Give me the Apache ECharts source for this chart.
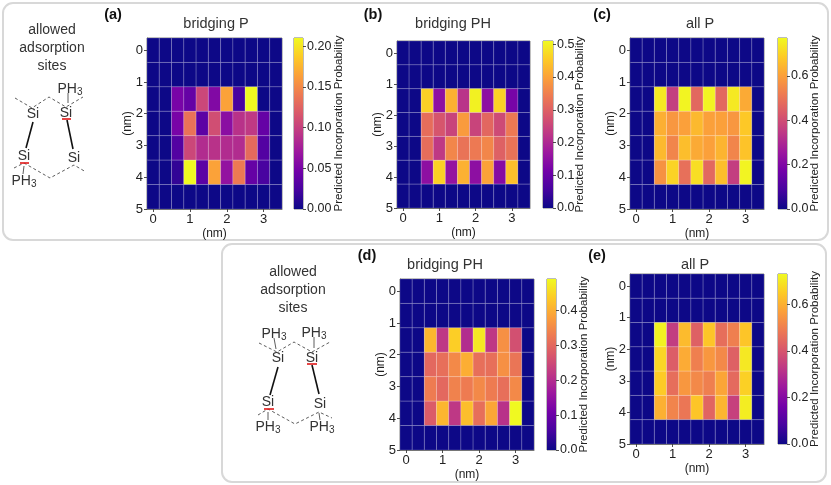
<!DOCTYPE html>
<html lang="en">
<head>
<meta charset="UTF-8">
<title>Predicted Incorporation Probability</title>
<script src="https://cdn.jsdelivr.net/npm/echarts@6/dist/echarts.min.js"></script>
<style>
  html, body { margin: 0; padding: 0; background: #fff; }
  #main { width: 831px; height: 485px; }
</style>
</head>
<body>
<div id="main"></div>
<script>
// occupied rows of each map, the other rows and columns are zero
const valuesA = [
  [0.05, 0.04, 0.105, 0.055, 0.165, 0.025, 0.21, 0],
  [0.05, 0.135, 0.035, 0.11, 0.06, 0.09, 0.095, 0.04],
  [0.03, 0.105, 0.085, 0.09, 0.085, 0.085, 0.13, 0.03],
  [0.015, 0.21, 0.035, 0.165, 0.065, 0.14, 0.04, 0.025]
];
const valuesB = [
  [0.46, 0.15, 0.42, 0.22, 0.50, 0.15, 0.46, 0.12],
  [0.32, 0.28, 0.25, 0.39, 0.25, 0.31, 0.26, 0.34],
  [0.32, 0.23, 0.36, 0.33, 0.34, 0.36, 0.30, 0.33],
  [0.15, 0.46, 0.16, 0.42, 0.15, 0.40, 0.14, 0.44]
];
const valuesC = [
  [0.74, 0.36, 0.76, 0.47, 0.76, 0.47, 0.74, 0.62],
  [0.63, 0.58, 0.60, 0.65, 0.60, 0.60, 0.58, 0.68],
  [0.65, 0.54, 0.66, 0.62, 0.60, 0.64, 0.54, 0.67],
  [0.57, 0.70, 0.49, 0.72, 0.47, 0.66, 0.36, 0.76]
];
const valuesD = [
  [0.41, 0.22, 0.44, 0.20, 0.47, 0.22, 0.36, 0.26],
  [0.30, 0.31, 0.35, 0.40, 0.31, 0.31, 0.36, 0.32],
  [0.33, 0.30, 0.34, 0.33, 0.35, 0.33, 0.31, 0.35],
  [0.28, 0.41, 0.22, 0.42, 0.31, 0.39, 0.21, 0.49]
];
const valuesE = [
  [0.72, 0.34, 0.62, 0.43, 0.64, 0.46, 0.50, 0.64],
  [0.67, 0.42, 0.59, 0.50, 0.55, 0.52, 0.43, 0.70],
  [0.65, 0.46, 0.55, 0.52, 0.50, 0.58, 0.45, 0.66],
  [0.60, 0.51, 0.48, 0.64, 0.44, 0.61, 0.35, 0.71]
];
const xTicks = [0, 1, 2, 3];
const yTicks = [0, 1, 2, 3, 4, 5];
const barTicksA = [0, 0.05, 0.10, 0.15, 0.20];
const barTicksB = [0, 0.1, 0.2, 0.3, 0.4, 0.5];
const barTicksC = [0, 0.2, 0.4, 0.6];
const barTicksD = [0, 0.1, 0.2, 0.3, 0.4];
const barTicksE = [0, 0.2, 0.4, 0.6];
const titles = ['bridging P', 'bridging PH', 'all P', 'bridging PH', 'all P'];
const letters = ['(a)', '(b)', '(c)', '(d)', '(e)'];
const barName = 'Predicted Incorporation Probability';
const plasma = ['#0d0887', '#46039f', '#7201a8', '#9c179e', '#bd3786', '#d8576b', '#ed7953', '#fb9f3a', '#fdca26', '#f0f921'];

const COLS = 11, ROWS = 7;
const xStep = 1 / 3, yStep = 5 / 6.5;
const font = '"Liberation Sans", Arial, sans-serif';

// pixel layout of each panel
const panels = [
  { values: valuesA, vmax: 0.21, ticks: barTicksA, dec: 2, x: 147, y: 38, w: 135, h: 171, bx: 294, bw: 9, gap: 36, tx: 216, ty: 24, lx: 113, ly: 15 },
  { values: valuesB, vmax: 0.51, ticks: barTicksB, dec: 1, x: 397, y: 41, w: 133, h: 167, bx: 543, bw: 10, gap: 27, tx: 453, ty: 24, lx: 373, ly: 15 },
  { values: valuesC, vmax: 0.77, ticks: barTicksC, dec: 1, x: 630, y: 38, w: 134, h: 171, bx: 778, bw: 9, gap: 28, tx: 700, ty: 24, lx: 602, ly: 15 },
  { values: valuesD, vmax: 0.49, ticks: barTicksD, dec: 1, x: 400, y: 279, w: 134, h: 171, bx: 547, bw: 9, gap: 28, tx: 445, ty: 265, lx: 367, ly: 256 },
  { values: valuesE, vmax: 0.73, ticks: barTicksE, dec: 1, x: 630, y: 274, w: 134, h: 170, bx: 778, bw: 9, gap: 28, tx: 695, ty: 265, lx: 597, ly: 256 }
];

function cells(values) {
  const out = [];
  for (let r = 0; r < ROWS; r++) {
    for (let c = 0; c < COLS; c++) {
      const row = values[r - 2];
      const v = row && c >= 2 && c <= 9 ? row[c - 2] : 0;
      out.push([c * xStep, r * yStep, v]);
    }
  }
  return out;
}

function renderCell(params, api) {
  const a = api.coord([api.value(0) - xStep / 2, api.value(1) - yStep / 2]);
  const b = api.coord([api.value(0) + xStep / 2, api.value(1) + yStep / 2]);
  return {
    type: 'rect',
    shape: { x: a[0], y: a[1], width: b[0] - a[0], height: b[1] - a[1] },
    style: { fill: api.visual('color'), stroke: 'rgba(255,255,255,0.17)', lineWidth: 1 }
  };
}

const axisLine = { show: true, onZero: false, lineStyle: { color: '#555', width: 0.8 } };
const tickLine = { length: 3, lineStyle: { color: '#222', width: 0.8 } };
const grid = [], xAxis = [], yAxis = [], series = [], visualMap = [];

panels.forEach((p, i) => {
  grid.push({ left: p.x, top: p.y, width: p.w, height: p.h, show: true, borderColor: '#555', borderWidth: 0.8 });
  xAxis.push({
    type: 'value', gridIndex: i, min: -xStep / 2, max: 3.5, name: '(nm)', nameLocation: 'middle', nameGap: 25, nameMoveOverlap: false,
    nameTextStyle: { fontSize: 12, color: '#222', fontFamily: font, verticalAlign: 'middle' },
    axisLine, splitLine: { show: false },
    axisTick: { show: true, customValues: xTicks, ...tickLine },
    axisLabel: { customValues: xTicks, fontSize: 13, color: '#222', fontFamily: font, margin: 4 }
  });
  yAxis.push({
    type: 'value', gridIndex: i, inverse: true, min: -yStep / 2, max: 5, name: '(nm)', nameLocation: 'middle', nameGap: 19, nameMoveOverlap: false,
    nameTextStyle: { fontSize: 12, color: '#222', fontFamily: font, verticalAlign: 'middle' },
    axisLine, splitLine: { show: false },
    axisTick: { show: true, customValues: yTicks, ...tickLine },
    axisLabel: { customValues: yTicks, fontSize: 13, color: '#222', fontFamily: font, margin: 4 }
  });
  series.push({
    type: 'custom', xAxisIndex: i, yAxisIndex: i, data: cells(p.values), renderItem: renderCell,
    encode: { x: 0, y: 1 }, silent: true, animation: false
  });
  visualMap.push({ show: false, type: 'continuous', seriesIndex: i, dimension: 2, min: 0, max: p.vmax, inRange: { color: plasma } });
});

// colour bars get their own grids behind the maps
panels.forEach((p, i) => {
  const g = panels.length + i;
  grid.push({ left: p.bx, top: p.y, width: p.bw, height: p.h, show: true, borderColor: '#555', borderWidth: 0.8 });
  xAxis.push({ type: 'category', gridIndex: g, data: [''], axisLine: { show: false }, axisTick: { show: false }, axisLabel: { show: false } });
  yAxis.push({
    type: 'value', gridIndex: g, position: 'right', min: 0, max: p.vmax, name: barName, nameLocation: 'middle', nameGap: p.gap, nameMoveOverlap: false,
    nameRotate: 90, nameTextStyle: { fontSize: 11.5, color: '#222', fontFamily: font, verticalAlign: 'middle' },
    axisLine: { show: false }, splitLine: { show: false },
    axisTick: { show: true, customValues: p.ticks, ...tickLine },
    axisLabel: { customValues: p.ticks, fontSize: 12.5, color: '#222', fontFamily: font, margin: 4, formatter: v => v.toFixed(p.dec) }
  });
  series.push({
    type: 'bar', xAxisIndex: g, yAxisIndex: g, data: [p.vmax], barWidth: '100%', silent: true, animation: false,
    itemStyle: {
      color: new echarts.graphic.LinearGradient(0, 1, 0, 0, plasma.map((c, k) => ({ offset: k / (plasma.length - 1), color: c })))
    }
  });
});

// sketch helpers
const ink = '#333';
function poly(points, dashed, color, width) {
  return {
    type: 'polyline', silent: true, z: 5, shape: { points },
    style: { fill: null, stroke: color || ink, lineWidth: width || 0.8, lineDash: dashed ? [3, 2.5] : null }
  };
}
function label(text, x, y, size) {
  return {
    type: 'text', x, y, silent: true, z: 6,
    style: { text, fill: ink, font: (size || 14) + 'px ' + font, align: 'center', verticalAlign: 'middle' }
  };
}
function ph3(x, y) {
  return {
    type: 'text', x, y, silent: true, z: 6,
    style: {
      text: 'PH{s|3}', fill: ink, font: '14px ' + font, align: 'center', verticalAlign: 'middle',
      rich: { s: { fontSize: 10, fontFamily: font, fill: ink, verticalAlign: 'bottom', padding: [6, 0, 0, 0] } }
    }
  };
}

const graphic = [
  { type: 'rect', silent: true, z: 0, shape: { x: 3, y: 3, width: 825, height: 237, r: 10 }, style: { fill: null, stroke: '#d8d8d8', lineWidth: 2 } },
  { type: 'rect', silent: true, z: 0, shape: { x: 222, y: 244, width: 604, height: 238, r: 10 }, style: { fill: null, stroke: '#d8d8d8', lineWidth: 2 } },

  label('allowed', 52, 30), label('adsorption', 52, 48), label('sites', 52, 66),
  ph3(70, 89), label('Si', 33, 114), label('Si', 66, 113), label('Si', 24, 156), label('Si', 74, 158), ph3(24, 181),
  poly([[15, 98], [32, 108], [49, 97], [66, 107], [83, 97]], true),
  poly([[14, 168], [24, 163], [50, 178], [74, 165], [86, 172]], true),
  poly([[68, 93], [68, 103]]), poly([[24, 166], [23, 174]]),
  poly([[33, 122], [26, 148]], false, '#111', 1.6), poly([[67, 120], [73, 149]], false, '#111', 1.6),
  poly([[62, 119], [71, 119]], false, '#e01818', 1.6), poly([[20, 163], [29, 163]], false, '#e01818', 1.6),

  label('allowed', 293, 272), label('adsorption', 293, 290), label('sites', 293, 308),
  ph3(274, 334), ph3(314, 333), label('Si', 278, 358), label('Si', 312, 358), label('Si', 268, 402), label('Si', 320, 404),
  ph3(268, 427), ph3(322, 427),
  poly([[259, 343], [277, 352], [294, 342], [312, 352], [330, 342]], true),
  poly([[258, 415], [268, 409], [295, 424], [319, 412], [332, 418]], true),
  poly([[274, 338], [276, 349]]), poly([[314, 337], [314, 348]]), poly([[268, 412], [268, 420]]), poly([[319, 413], [320, 420]]),
  poly([[278, 367], [270, 395]], false, '#111', 1.6), poly([[312, 365], [319, 394]], false, '#111', 1.6),
  poly([[307, 364], [317, 364]], false, '#e01818', 1.6), poly([[264, 409], [274, 409]], false, '#e01818', 1.6)
];

panels.forEach((p, i) => {
  graphic.push(label(titles[i], p.tx, p.ty, 14.5));
  graphic.push({
    type: 'text', x: p.lx, y: p.ly, silent: true, z: 6,
    style: { text: letters[i], fill: '#111', font: 'bold 14.5px ' + font, align: 'center', verticalAlign: 'middle' }
  });
});

const chart = echarts.init(document.getElementById('main'), null, { renderer: 'canvas' });
chart.setOption({ animation: false, backgroundColor: '#fff', grid, xAxis, yAxis, visualMap, series, graphic });
</script>
</body>
</html>
